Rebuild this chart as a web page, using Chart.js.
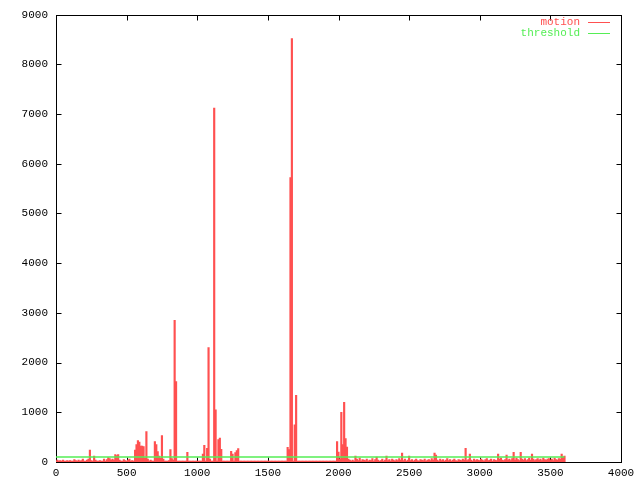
<!DOCTYPE html>
<html>
<head>
<meta charset="utf-8">
<script src="https://cdn.jsdelivr.net/npm/chart.js@4"></script>
<style>
  body { margin: 0; background: #fff; }
  canvas { display: block; }
</style>
</head>
<body>
<canvas id="chart1" width="640" height="480"></canvas>
<script>
// motion samples, one every 10 units starting at 0
var step = 10;
var motion = [
  20,40,0,30,10,40,0,20,30,10,
  30,0,20,50,30,20,40,0,30,60,
  20,0,40,60,240,30,0,120,40,0,
  0,30,10,0,60,20,50,90,70,40,
  60,40,150,130,150,40,20,0,50,30,
  0,40,60,20,30,0,240,350,430,400,
  320,320,310,80,610,60,0,40,20,20,
  410,350,210,120,80,530,60,0,0,0,
  30,250,70,40,2850,1620,0,0,0,0,
  0,0,0,197,0,0,0,0,0,0,
  0,0,0,20,157,335,0,275,2300,60,
  0,0,7120,1050,0,450,480,256,0,0,
  0,0,0,0,216,160,0,190,230,270,
  0,0,0,0,0,0,0,0,0,0,
  0,0,0,0,0,0,0,0,0,0,
  0,0,0,0,0,0,0,0,0,0,
  0,0,0,0,295,250,5720,8520,0,750,
  1340,0,0,0,0,0,0,0,0,0,
  0,0,0,0,0,0,0,0,0,0,
  0,0,0,0,0,0,0,0,0,413,
  200,60,1000,350,1200,470,300,60,40,20,
  40,20,118,60,30,80,20,50,40,30,
  60,20,40,30,70,20,50,100,40,20,
  30,60,20,40,118,30,50,20,60,40,
  20,50,30,70,40,177,30,60,20,40,
  118,30,50,20,40,60,30,20,50,40,
  30,60,20,40,50,30,70,40,177,140,
  40,20,60,30,50,20,40,70,30,50,
  20,40,60,30,20,50,40,30,60,40,
  275,30,50,160,40,20,60,30,50,40,
  30,60,40,20,50,70,30,40,60,20,
  50,40,30,157,60,80,40,30,50,140,
  40,60,30,70,197,40,80,50,30,197,
  60,40,70,30,50,80,40,157,60,30,
  50,70,40,60,30,80,50,40,60,70,
  40,60,30,80,50,40,70,60,160,100,
  120
];
var thresholdX = [0, 3600];
var thresholdY = [100, 100];
var xTicks = [0, 500, 1000, 1500, 2000, 2500, 3000, 3500, 4000];
var yTicks = [0, 1000, 2000, 3000, 4000, 5000, 6000, 7000, 8000, 9000];

var red = "#ff5050";
var green = "#55ee55";
var monoFont = "'Liberation Mono', 'DejaVu Sans Mono', monospace";

// gnuplot style frame, inward ticks and legend
var gnuplotFrame = {
  id: "gnuplotFrame",
  beforeDatasetsDraw: function(chart) {
    var ctx = chart.ctx, a = chart.chartArea;
    var xs = chart.scales.x, ys = chart.scales.y;
    var l = Math.round(a.left) + 0.5, r = Math.round(a.right) + 0.5;
    var t = Math.round(a.top) + 0.5, b = Math.round(a.bottom) + 0.5;
    ctx.save();
    ctx.strokeStyle = "#000";
    ctx.lineWidth = 1;
    ctx.strokeRect(l, t, r - l, b - t);
    ctx.beginPath();
    xTicks.forEach(function(v) {
      var px = Math.round(xs.getPixelForValue(v)) + 0.5;
      ctx.moveTo(px, b); ctx.lineTo(px, b - 5);
      ctx.moveTo(px, t); ctx.lineTo(px, t + 5);
    });
    yTicks.forEach(function(v) {
      var py = Math.round(ys.getPixelForValue(v)) + 0.5;
      ctx.moveTo(l, py); ctx.lineTo(l + 5, py);
      ctx.moveTo(r, py); ctx.lineTo(r - 5, py);
    });
    ctx.stroke();
    ctx.restore();
  },
  afterDraw: function(chart) {
    var ctx = chart.ctx;
    ctx.save();
    ctx.font = "11px " + monoFont;
    ctx.textAlign = "right";
    ctx.textBaseline = "middle";
    chart.data.datasets.forEach(function(ds, i) {
      var y = 22 + i * 11;
      ctx.fillStyle = ds.borderColor;
      ctx.fillText(ds.label, 580, y);
      ctx.strokeStyle = ds.borderColor;
      ctx.lineWidth = 1;
      ctx.beginPath();
      ctx.moveTo(588, y + 0.5);
      ctx.lineTo(610, y + 0.5);
      ctx.stroke();
    });
    ctx.restore();
  }
};

var chart1 = new Chart(document.getElementById("chart1"), {
  type: "bar",
  data: {
    datasets: [{
      type: "bar",
      label: "motion",
      data: motion.map(function(v, i) { return { x: i * step, y: v }; }),
      backgroundColor: red,
      borderColor: red,
      borderWidth: 0,
      barThickness: 1.5,
      minBarLength: 1,
      order: 2
    }, {
      type: "line",
      label: "threshold",
      data: thresholdX.map(function(x, i) { return { x: x, y: thresholdY[i] }; }),
      borderColor: green,
      backgroundColor: green,
      borderWidth: 1.6,
      pointRadius: 0,
      order: 1
    }]
  },
  options: {
    responsive: false,
    animation: false,
    layout: { padding: { top: 5, right: 19, left: 0, bottom: 0 } },
    plugins: {
      legend: { display: false },
      tooltip: { enabled: false }
    },
    scales: {
      x: {
        type: "linear",
        min: 0,
        max: 4000,
        offset: false,
        grid: { display: false, drawTicks: false },
        border: { display: false },
        ticks: {
          stepSize: 500,
          maxRotation: 0,
          autoSkip: false,
          padding: 4,
          color: "#000",
          font: { family: monoFont, size: 11 },
          callback: function(v) { return String(v); }
        },
        afterFit: function(s) { s.height = 18; }
      },
      y: {
        min: 0,
        max: 9000,
        grid: { display: false, drawTicks: false },
        border: { display: false },
        ticks: {
          stepSize: 1000,
          padding: 8,
          color: "#000",
          font: { family: monoFont, size: 11 },
          callback: function(v) { return String(v); }
        },
        afterFit: function(s) { s.width = 56; }
      }
    }
  },
  plugins: [gnuplotFrame]
});
</script>
</body>
</html>
